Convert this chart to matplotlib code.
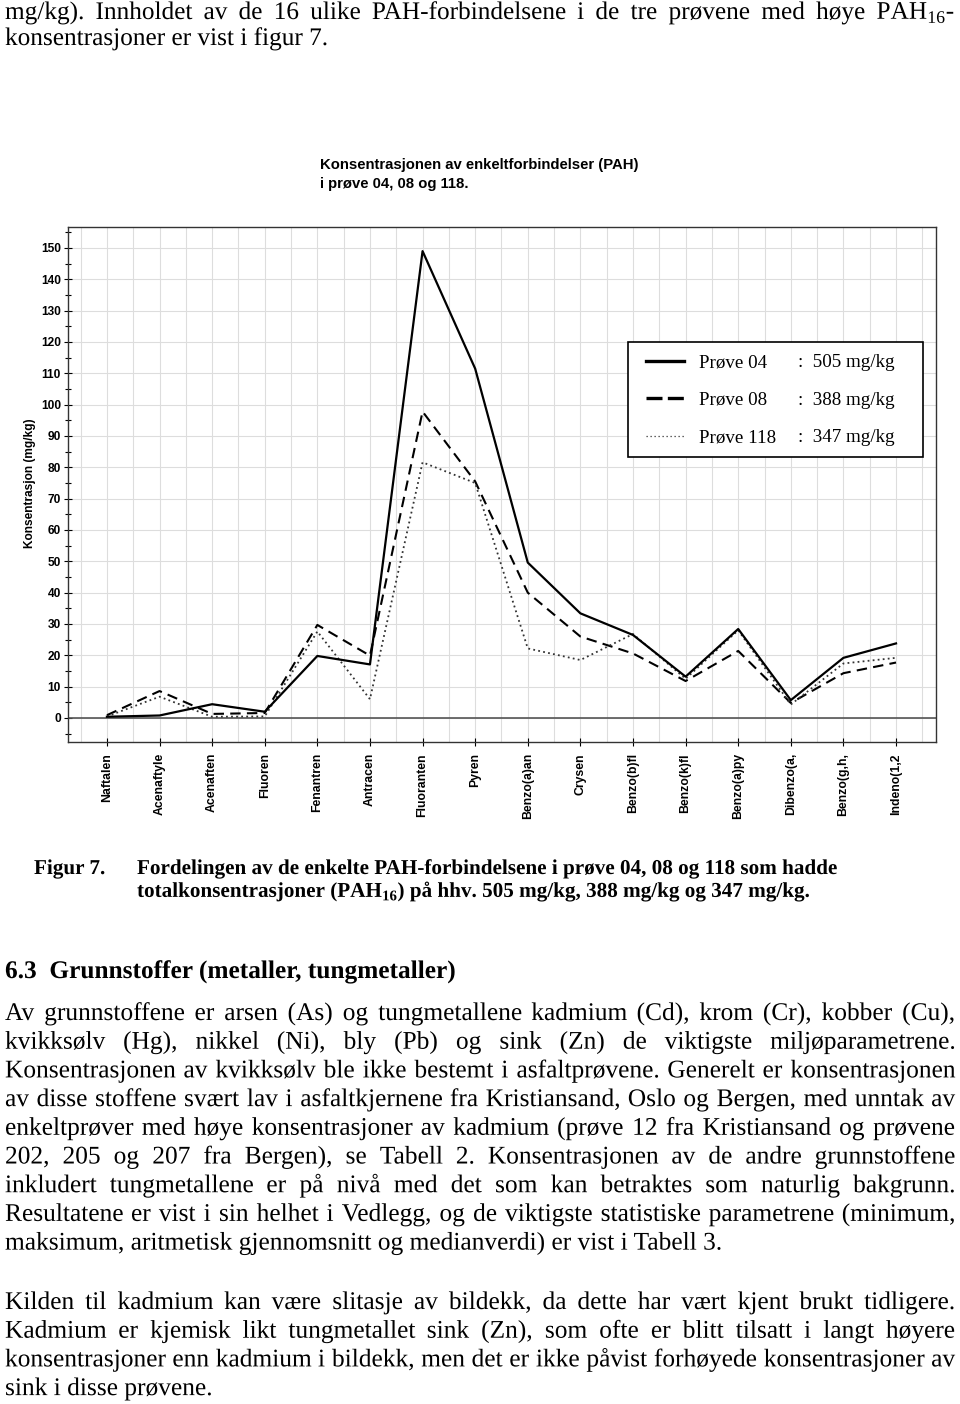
import numpy as np
import matplotlib
matplotlib.use('Agg')
from matplotlib import pyplot as plt
from matplotlib import patheffects
from matplotlib.patches import Rectangle
from matplotlib.ticker import MultipleLocator

plt.rcParams['mathtext.fontset'] = 'custom'
plt.rcParams['mathtext.rm'] = 'Liberation Serif'
plt.rcParams['mathtext.bf'] = 'Liberation Serif:bold'

# PAH-forbindelser (forkortet slik de står på aksen)
categorias = ['Naftalen', 'Acenaftyle', 'Acenaften', 'Fluoren', 'Fenantren', 'Antracen',
              'Fluoranten', 'Pyren', 'Benzo(a)an', 'Crysen', 'Benzo(b)fl', 'Benzo(k)fl',
              'Benzo(a)py', 'Dibenzo(a,', 'Benzo(g,h,', 'Indeno(1,2']

# konsentrasjon (mg/kg)
prove_04 = [0.4, 0.8, 4.4, 2.0, 19.8, 17.1, 149.0, 111.5, 49.6, 33.4, 26.5, 13.2, 28.4, 5.7, 19.2, 23.8]
prove_08 = [0.9, 8.6, 1.3, 1.6, 29.7, 19.9, 97.8, 75.5, 40.0, 26.0, 20.6, 11.8, 21.4, 4.8, 14.3, 17.7]
prove_118 = [0.5, 6.8, 0.4, 0.5, 27.6, 6.0, 81.6, 75.0, 22.2, 18.5, 26.8, 12.5, 28.0, 4.3, 17.4, 19.2]

serier = ['Prøve 04', 'Prøve 08', 'Prøve 118']
totaler = [':  505 mg/kg', ':  388 mg/kg', ':  347 mg/kg']

W, H = 960, 1404


def fx(px):
    return px / W


def fy(py):
    return 1 - py / H


fig = plt.figure(figsize=(9.6, 14.04), dpi=100)
renderer = fig.canvas.get_renderer()
# tekst tegnes som path -> felles grunnlinje for ordene
pe = [patheffects.Normal()]


def largura(s, size, weight='normal', family='Liberation Serif'):
    t = fig.text(0, 0, s, fontsize=size, fontweight=weight, family=family)
    w = t.get_window_extent(renderer).width
    t.remove()
    return w


def fit_size(s, alvo, weight='normal', family='Liberation Serif'):
    return 10 * alvo / largura(s, 10, weight, family)


def linha(s, x, y, size, weight='normal', right=None):
    if right is None:
        fig.text(fx(x), fy(y), s, fontsize=size, fontweight=weight, path_effects=pe,
                 family='Liberation Serif', va='baseline', ha='left')
        return
    # justert linje: ord for ord
    palavras = s.split(' ')
    textos = [fig.text(0, fy(y), p, fontsize=size, fontweight=weight, path_effects=pe,
                       family='Liberation Serif', va='baseline', ha='left') for p in palavras]
    larg = [t.get_window_extent(renderer).width for t in textos]
    gap = (right - x - sum(larg)) / (len(palavras) - 1)
    pos = x
    for t, w in zip(textos, larg):
        t.set_x(fx(pos))
        pos += w + gap


# ---------------- texto da página ----------------
tam_corpo = fit_size('maksimum, aritmetisk gjennomsnitt og medianverdi) er vist i Tabell 3.', 717)
tam_topo = fit_size('konsentrasjoner er vist i figur 7.', 323)
tam_leg = fit_size('Fordelingen av de enkelte PAH-forbindelsene i prøve 04, 08 og 118 som hadde', 703, 'bold')
tam_titulo = fit_size('6.3  Grunnstoffer (metaller, tungmetaller)', 453, 'bold')

linha('mg/kg). Innholdet av de 16 ulike PAH-forbindelsene i de tre prøvene med høye PAH$_{16}$-',
      5, 19, tam_topo, right=955)
linha('konsentrasjoner er vist i figur 7.', 5, 45, tam_topo)

linha('Figur 7.', 34, 874, tam_leg, 'bold')
linha('Fordelingen av de enkelte PAH-forbindelsene i prøve 04, 08 og 118 som hadde', 137, 874, tam_leg, 'bold')
linha('totalkonsentrasjoner (PAH$_{\\mathbf{16}}$) på hhv. 505 mg/kg, 388 mg/kg og 347 mg/kg.',
      137, 897, tam_leg, 'bold')

linha('6.3  Grunnstoffer (metaller, tungmetaller)', 5, 978, tam_titulo, 'bold')

paragrafo1 = [
    'Av grunnstoffene er arsen (As) og tungmetallene kadmium (Cd), krom (Cr), kobber (Cu),',
    'kvikksølv (Hg), nikkel (Ni), bly (Pb) og sink (Zn) de viktigste miljøparametrene.',
    'Konsentrasjonen av kvikksølv ble ikke bestemt i asfaltprøvene. Generelt er konsentrasjonen',
    'av disse stoffene svært lav i asfaltkjernene fra Kristiansand, Oslo og Bergen, med unntak av',
    'enkeltprøver med høye konsentrasjoner av kadmium (prøve 12 fra Kristiansand og prøvene',
    '202, 205 og 207 fra Bergen), se Tabell 2. Konsentrasjonen av de andre grunnstoffene',
    'inkludert tungmetallene er på nivå med det som kan betraktes som naturlig bakgrunn.',
    'Resultatene er vist i sin helhet i Vedlegg, og de viktigste statistiske parametrene (minimum,',
    'maksimum, aritmetisk gjennomsnitt og medianverdi) er vist i Tabell 3.',
]
paragrafo2 = [
    'Kilden til kadmium kan være slitasje av bildekk, da dette har vært kjent brukt tidligere.',
    'Kadmium er kjemisk likt tungmetallet sink (Zn), som ofte er blitt tilsatt i langt høyere',
    'konsentrasjoner enn kadmium i bildekk, men det er ikke påvist forhøyede konsentrasjoner av',
    'sink i disse prøvene.',
]
for i, s in enumerate(paragrafo1):
    ultima = i == len(paragrafo1) - 1
    linha(s, 5, 1020 + i * 28.7, tam_corpo, right=None if ultima else 955)
for i, s in enumerate(paragrafo2):
    ultima = i == len(paragrafo2) - 1
    linha(s, 5, 1309 + i * 28.7, tam_corpo, right=None if ultima else 955)

# ---------------- gráfico ----------------
tam_graf_tit = fit_size('Konsentrasjonen av enkeltforbindelser (PAH)', 319, 'bold', 'Liberation Sans')
fig.text(fx(320), fy(165), 'Konsentrasjonen av enkeltforbindelser (PAH)', fontsize=tam_graf_tit,
         fontweight='bold', family='Liberation Sans', va='center')
fig.text(fx(320), fy(184), 'i prøve 04, 08 og 118.', fontsize=tam_graf_tit,
         fontweight='bold', family='Liberation Sans', va='center')

tam_ylab = fit_size('Konsentrasjon (mg/kg)', 130, 'bold', 'Liberation Sans')
fig.text(fx(30), fy(483), 'Konsentrasjon (mg/kg)', rotation=90, fontsize=tam_ylab,
         fontweight='bold', family='Liberation Sans', ha='center', va='center')

ax = fig.add_axes([fx(68), fy(742), (936 - 68) / W, (742 - 227) / H])
x = np.arange(len(categorias))
l1, = ax.plot(x, prove_04, color='black', lw=1.6, zorder=4)
l2, = ax.plot(x, prove_08, color='black', lw=1.5, linestyle=(0, (5, 3)), zorder=3)
l3, = ax.plot(x, prove_118, color='#333333', lw=1.3, linestyle=(0, (1, 1.8)), zorder=3)
ax.axhline(0, color='#555555', lw=1.2, zorder=2)

ax.set_xlim(-0.74, 15.76)
ax.set_ylim(-7.66, 156.7)
ax.set_xticks(x)
ax.set_xticklabels(categorias, rotation=90, va='top', fontsize=8.8, fontweight='bold', family='Liberation Sans')
ax.xaxis.set_minor_locator(MultipleLocator(0.5))
ax.yaxis.set_major_locator(MultipleLocator(10))
ax.yaxis.set_minor_locator(MultipleLocator(5))
for lbl in ax.get_yticklabels():
    lbl.set_fontweight('bold')
    lbl.set_family('Liberation Sans')
    lbl.set_fontsize(8.6)

ax.tick_params(axis='y', which='major', direction='inout', length=6, width=0.8, pad=2)
ax.tick_params(axis='y', which='minor', direction='inout', length=4, width=0.8)
ax.tick_params(axis='x', which='major', direction='inout', length=6, width=0.8, pad=5)
ax.tick_params(axis='x', which='minor', length=0)
ax.grid(True, which='both', axis='x', color='#dddddd', lw=0.8, zorder=0)
ax.grid(True, which='major', axis='y', color='#dddddd', lw=0.8, zorder=0)
ax.set_axisbelow(True)
for sp in ax.spines.values():
    sp.set_color('#333333')
    sp.set_linewidth(1.0)

# legenda
fig.add_artist(Rectangle((fx(628), fy(457)), (923 - 628) / W, (457 - 342) / H,
                         transform=fig.transFigure, facecolor='white', edgecolor='black',
                         lw=1.2, zorder=1))
tam_serie = 13.7
leg = fig.legend([l1, l2, l3], serier, loc='upper left', bbox_to_anchor=(fx(646), fy(354)),
                 bbox_transform=fig.transFigure, frameon=False, borderpad=0, borderaxespad=0,
                 prop={'family': 'Liberation Serif', 'size': tam_serie},
                 handlelength=2.0, handletextpad=0.8, labelspacing=1.06)
hs = leg.legend_handles
hs[0].set_linewidth(2.4)
hs[1].set_linewidth(2.4)
hs[1].set_dashes([4.8, 1.6])
hs[2].set_linewidth(0.9)
hs[2].set_dashes([1, 2.2])

fig.canvas.draw()
for t, tot in zip(leg.get_texts(), totaler):
    bb = t.get_window_extent(renderer)
    yc = (bb.y0 + bb.y1) / 2 / fig.bbox.height
    fig.text(fx(798), yc, tot, fontsize=tam_serie, family='Liberation Serif', va='center', zorder=6)

fig.savefig('out.png', dpi=100)
